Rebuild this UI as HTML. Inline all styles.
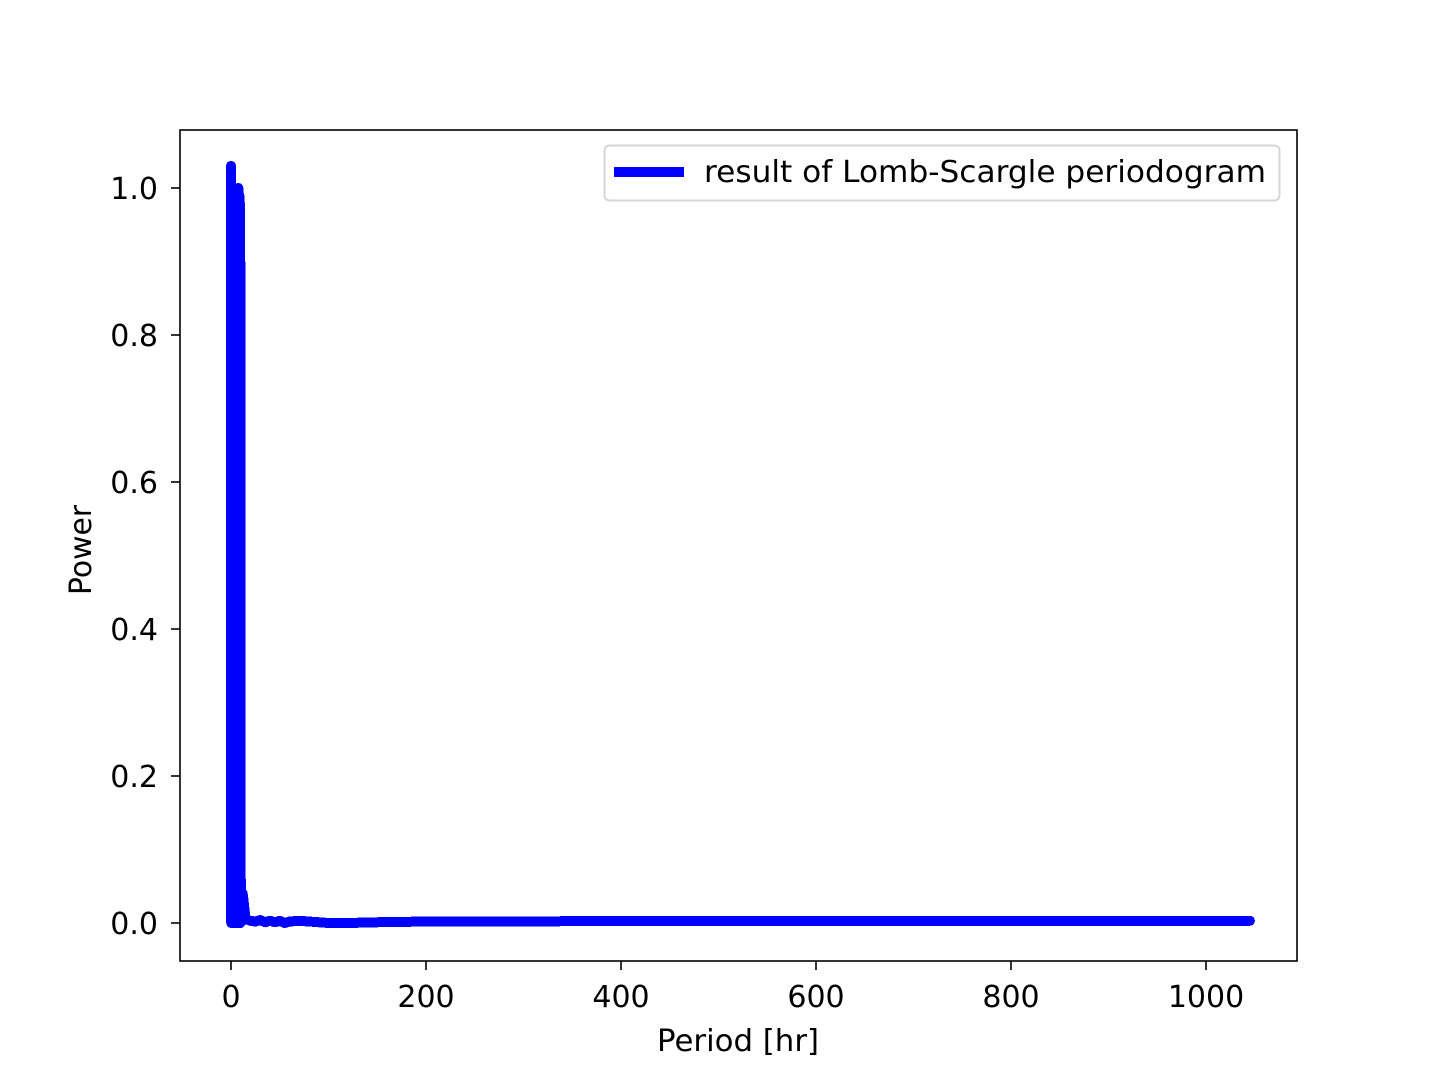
<!DOCTYPE html>
<html><head><meta charset="utf-8"><style>
html,body{margin:0;padding:0;background:#fff;}
svg{display:block;font-family:"DejaVu Sans","Liberation Sans",sans-serif;}
</style></head><body>
<svg id="chart" width="1440" height="1080" viewBox="0 0 1440 1080">
  <rect x="0" y="0" width="1440" height="1080" fill="#fff"/>
  <defs><clipPath id="plotclip"><rect x="180" y="130" width="1117" height="831"/></clipPath></defs>
  <g id="series" clip-path="url(#plotclip)"></g>
  <rect x="180" y="130" width="1117" height="831" fill="none" stroke="#000" stroke-width="1.6"/>
  <g id="xticks"></g>
  <g id="yticks"></g>
  <text x="657" y="1051" font-size="30" textLength="162" lengthAdjust="spacingAndGlyphs">Period [hr]</text>
  <text transform="translate(91,595) rotate(-90)" font-size="30" textLength="90" lengthAdjust="spacingAndGlyphs">Power</text>
  <g>
    <rect x="604.5" y="145.5" width="675" height="55" rx="5" fill="#fff" fill-opacity="0.8" stroke="#d5d5d5" stroke-width="2"/>
    <line x1="614" y1="172" x2="684" y2="172" stroke="#0000ff" stroke-width="10"/>
    <text x="704" y="182" font-size="30" textLength="562" lengthAdjust="spacingAndGlyphs">result of Lomb-Scargle periodogram</text>
  </g>
</svg>
<script>
const periods = [0,0.25,0.5,0.75,1,1.25,1.5,1.75,2,2.25,2.5,2.75,3,3.25,3.5,3.75,4,4.25,4.5,4.75,5,5.25,5.5,5.75,6,6.25,6.5,6.75,7,7.25,7.5,7.75,8,8.25,8.5,8.75,9,9.25,9.5,9.75,10,11,12,15,20,25,30,35,40,45,50,55,60,70,80,90,100,120,150,200,300,400,600,800,1045];
const powers = [1.03,0.0,0.98,0.0,0.97,0.0,0.95,0.0,0.96,0.0,0.94,0.0,0.95,0.0,0.93,0.0,0.95,0.0,0.94,0.0,0.96,0.0,0.95,0.0,0.97,0.0,0.98,0.0,0.99,0.0,1.0,0.0,0.99,0.0,0.99,0.0,0.98,0.0,0.9,0.0,0.06,0.01,0.04,0.005,0.003,0.002,0.004,0.001,0.003,0.001,0.003,0.0,0.002,0.003,0.002,0.001,0.0,0.0,0.001,0.002,0.002,0.003,0.003,0.003,0.003];
const xTickValues = [0,200,400,600,800,1000];
const xTickLabels = ["0","200","400","600","800","1000"];
const yTickValues = [0.0,0.2,0.4,0.6,0.8,1.0];
const yTickLabels = ["0.0","0.2","0.4","0.6","0.8","1.0"];

const NS = "http://www.w3.org/2000/svg";
function xScale(v){ return 231 + v * 0.975; }
function yScale(v){ return 923 - v * 735; }

const series = document.getElementById('series');
let d = '';
for (let i = 0; i < periods.length; i++) {
  d += (i ? 'L' : 'M') + xScale(periods[i]).toFixed(2) + ',' + yScale(powers[i]).toFixed(2);
}
const path = document.createElementNS(NS, 'path');
path.setAttribute('d', d);
path.setAttribute('fill', 'none');
path.setAttribute('stroke', '#0000ff');
path.setAttribute('stroke-width', '10');
path.setAttribute('stroke-linejoin', 'round');
path.setAttribute('stroke-linecap', 'round');
path.setAttribute('shape-rendering', 'crispEdges');


series.appendChild(path);

const xg = document.getElementById('xticks');
xTickValues.forEach((v, i) => {
  const x = xScale(v);
  const t = document.createElementNS(NS, 'line');
  t.setAttribute('x1', x); t.setAttribute('x2', x);
  t.setAttribute('y1', 961); t.setAttribute('y2', 970);
  t.setAttribute('stroke', '#000'); t.setAttribute('stroke-width', '1.6');
  
  
  xg.appendChild(t);
  const lb = document.createElementNS(NS, 'text');
  lb.setAttribute('x', x); lb.setAttribute('y', 1007);
  lb.setAttribute('font-size', '30'); lb.setAttribute('text-anchor', 'middle');
  lb.textContent = xTickLabels[i];
  
  
  xg.appendChild(lb);
});

const yg = document.getElementById('yticks');
yTickValues.forEach((v, i) => {
  const y = yScale(v);
  const t = document.createElementNS(NS, 'line');
  t.setAttribute('x1', 171); t.setAttribute('x2', 180);
  t.setAttribute('y1', y); t.setAttribute('y2', y);
  t.setAttribute('stroke', '#000'); t.setAttribute('stroke-width', '1.6');
  
  
  yg.appendChild(t);
  const lb = document.createElementNS(NS, 'text');
  lb.setAttribute('x', 158); lb.setAttribute('y', y + 11);
  lb.setAttribute('font-size', '30'); lb.setAttribute('text-anchor', 'end');
  lb.textContent = yTickLabels[i];
  
  
  yg.appendChild(lb);
});
</script>
</body></html>
